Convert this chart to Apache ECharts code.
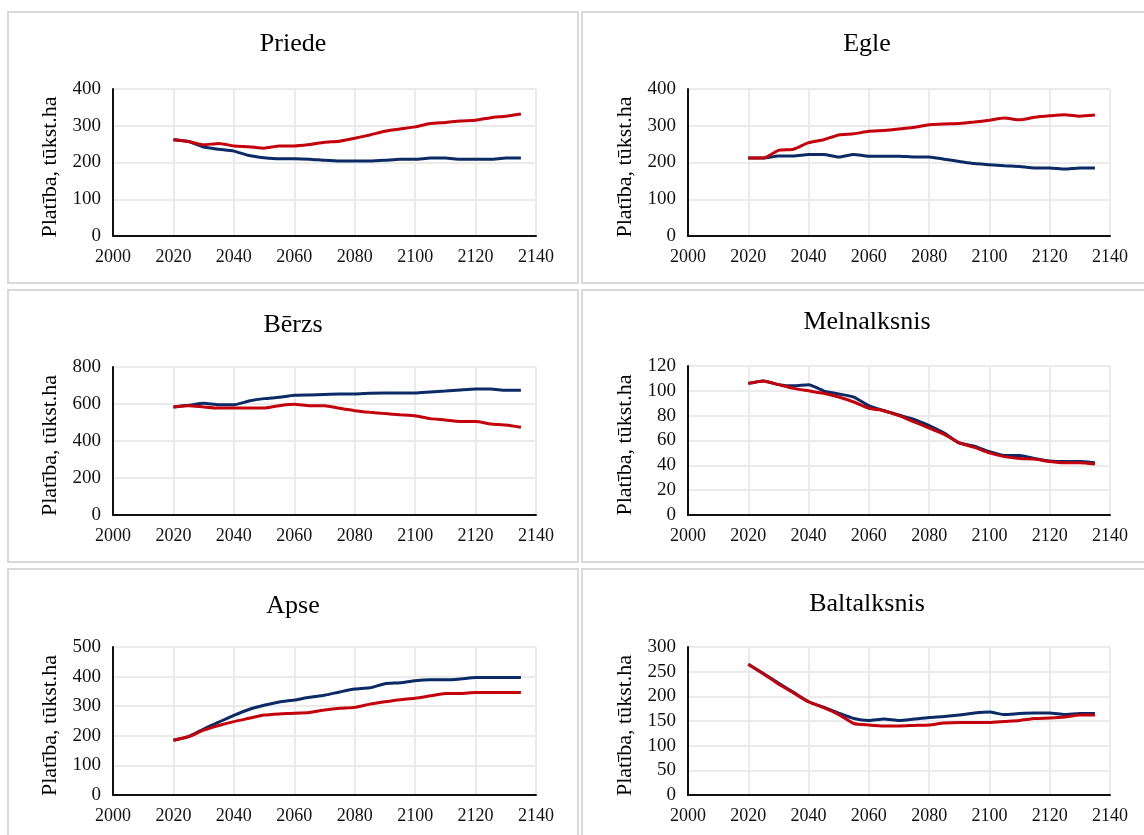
<!DOCTYPE html>
<html>
<head>
<meta charset="utf-8">
<script src="https://cdn.jsdelivr.net/npm/echarts@6/dist/echarts.min.js"></script>
<style>
  html, body { margin: 0; padding: 0; background: #ffffff; }
  #chart { width: 1144px; height: 835px; }
</style>
</head>
<body>
<div id="chart"></div>
<script>
// Simulation years (5-year steps)
const years = [2020, 2025, 2030, 2035, 2040, 2045, 2050, 2055, 2060, 2065, 2070, 2075,
               2080, 2085, 2090, 2095, 2100, 2105, 2110, 2115, 2120, 2125, 2130, 2135];

// Area by dominant species, thousand ha; A = dark blue line, B = red line
const priedeA = [262, 257, 242, 236, 231, 219, 213, 210, 210, 209, 206, 204, 204, 204, 206, 209, 209, 212, 212, 209, 209, 209, 212, 212];
const priedeB = [262, 257, 248, 252, 245, 243, 239, 245, 245, 249, 255, 258, 266, 275, 285, 291, 297, 306, 309, 313, 315, 322, 326, 332];

const egleA = [212, 212, 218, 218, 222, 222, 215, 222, 217, 217, 217, 215, 215, 209, 203, 197, 194, 191, 189, 185, 185, 182, 185, 185];
const egleB = [212, 212, 233, 236, 254, 262, 275, 278, 285, 287, 291, 296, 303, 305, 306, 310, 315, 321, 316, 323, 327, 330, 326, 329];

const berzsA = [584, 593, 604, 596, 596, 616, 629, 636, 647, 649, 652, 654, 654, 658, 659, 659, 659, 665, 670, 676, 681, 681, 674, 674];
const berzsB = [584, 591, 584, 578, 578, 578, 578, 591, 598, 591, 591, 577, 564, 555, 548, 542, 537, 521, 514, 505, 505, 492, 486, 474];

const melnalksnisA = [106, 108, 105, 104, 105, 100, 97.5, 95, 88, 84, 80.5, 77, 72, 66, 58, 55.5, 51, 48, 48, 45.5, 43.5, 43, 43, 42];
const melnalksnisB = [106, 108, 105, 102, 100, 98, 95, 91, 86, 84, 80, 75, 70, 65, 58, 54.5, 50, 47, 45.5, 45, 43, 42, 42, 41];

const apseA = [185, 197, 223, 246, 269, 289, 303, 314, 321, 330, 337, 348, 358, 362, 376, 379, 386, 389, 389, 392, 397, 397, 397, 397];
const apseB = [185, 197, 219, 235, 248, 259, 270, 274, 276, 279, 287, 293, 296, 307, 315, 322, 327, 335, 343, 343, 346, 346, 346, 346];

const baltalksnisA = [265, 246, 227, 208, 189, 178, 166, 155, 151, 154, 151, 154, 157, 159, 162, 166, 168, 163, 165, 166, 166, 163, 165, 165];
const baltalksnisB = [265, 246, 225, 207, 189, 177, 163, 145, 142, 140, 140, 141, 142, 146, 147, 147, 147, 149, 151, 155, 156, 158, 162, 162];

// Panel titles and y-axis scales
const titles = ['Priede', 'Egle', 'Bērzs', 'Melnalksnis', 'Apse', 'Baltalksnis'];
const yMax = [400, 400, 800, 120, 500, 300];
const yStep = [100, 100, 200, 20, 100, 50];
const seriesA = [priedeA, egleA, berzsA, melnalksnisA, apseA, baltalksnisA];
const seriesB = [priedeB, egleB, berzsB, melnalksnisB, apseB, baltalksnisB];

const xMin = 2000, xMax = 2140, xStep = 20;
const yName = 'Platība, tūkst.ha';

const SERIF = '"Liberation Serif", "Times New Roman", serif';
const BLUE = '#0b2a66';
const RED = '#c4000a';

// Layout: 2 columns x 3 rows of framed panels
const plotBoxes = [
  { left: 113, top: 89,  width: 423, height: 147 },
  { left: 688, top: 89,  width: 422, height: 147 },
  { left: 113, top: 367, width: 423, height: 148 },
  { left: 688, top: 366, width: 422, height: 149 },
  { left: 113, top: 647, width: 423, height: 148 },
  { left: 688, top: 647, width: 422, height: 148 }
];
const titlePos = [
  { x: 293, y: 44 }, { x: 867, y: 44 },
  { x: 293, y: 325 }, { x: 867, y: 322 },
  { x: 293, y: 606 }, { x: 867, y: 604 }
];
const frames = [
  { x: 8,   y: 12,  width: 570, height: 271 },
  { x: 582, y: 12,  width: 600, height: 271 },
  { x: 8,   y: 290, width: 570, height: 272 },
  { x: 582, y: 290, width: 600, height: 272 },
  { x: 8,   y: 569, width: 570, height: 300 },
  { x: 582, y: 569, width: 600, height: 300 }
];

const toPairs = (vals) => years.map((yr, i) => [yr, vals[i]]);

const option = {
  backgroundColor: '#ffffff',
  animation: false,
  graphic: frames.map(f => ({
    type: 'rect',
    shape: { x: f.x, y: f.y, width: f.width, height: f.height },
    style: { fill: 'none', stroke: '#d9d9d9', lineWidth: 2 },
    silent: true,
    z: -1
  })),
  title: titles.map((t, i) => ({
    text: t,
    left: titlePos[i].x,
    top: titlePos[i].y - 13,
    textAlign: 'center',
    padding: 0,
    textStyle: { fontFamily: SERIF, fontSize: 26, fontWeight: 'normal', color: '#000', lineHeight: 26 }
  })),
  grid: plotBoxes.map(b => ({ left: b.left, top: b.top, width: b.width, height: b.height, containLabel: false })),
  xAxis: plotBoxes.map((b, i) => ({
    type: 'value',
    gridIndex: i,
    min: xMin, max: xMax, interval: xStep,
    axisLine: { show: true, onZero: false, lineStyle: { color: '#111', width: 2 } },
    axisTick: { show: false },
    axisLabel: { fontFamily: SERIF, fontSize: 18, color: '#111', margin: 12, formatter: (v) => String(v) },
    splitLine: { show: true, lineStyle: { color: '#ebebeb', width: 2 } }
  })),
  yAxis: plotBoxes.map((b, i) => ({
    type: 'value',
    gridIndex: i,
    min: 0, max: yMax[i], interval: yStep[i],
    name: yName,
    nameLocation: 'middle',
    nameGap: 52,
    nameTextStyle: { fontFamily: SERIF, fontSize: 22, color: '#000', padding: [0, 9, 0, 0] },
    axisLine: { show: true, lineStyle: { color: '#111', width: 2 } },
    axisTick: { show: false },
    axisLabel: { fontFamily: SERIF, fontSize: 19, color: '#111', margin: 12, formatter: (v) => String(v) },
    splitLine: { show: true, lineStyle: { color: '#ebebeb', width: 2 } }
  })),
  series: [].concat(
    seriesA.map((vals, i) => ({
      type: 'line', xAxisIndex: i, yAxisIndex: i,
      data: toPairs(vals), showSymbol: false, smooth: 0.2,
      lineStyle: { color: BLUE, width: 3 }, z: 2
    })),
    seriesB.map((vals, i) => ({
      type: 'line', xAxisIndex: i, yAxisIndex: i,
      data: toPairs(vals), showSymbol: false, smooth: 0.2,
      lineStyle: { color: RED, width: 3 }, z: 3
    }))
  )
};

const chart = echarts.init(document.getElementById('chart'), null, { renderer: 'canvas' });
chart.setOption(option);
</script>
</body>
</html>
